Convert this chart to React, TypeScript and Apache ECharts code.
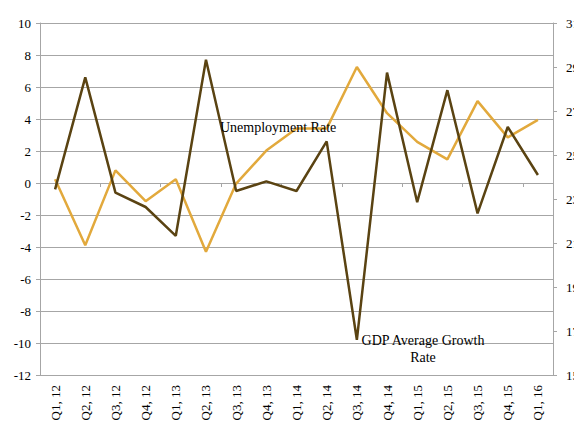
import React, { useEffect, useRef } from "react";
import * as echarts from "echarts";

const categories = [
  "Q1, 12", "Q2, 12", "Q3, 12", "Q4, 12",
  "Q1, 13", "Q2, 13", "Q3, 13", "Q4, 13",
  "Q1, 14", "Q2, 14", "Q3, 14", "Q4, 14",
  "Q1, 15", "Q2, 15", "Q3, 15", "Q4, 15",
  "Q1, 16",
];
const gdpGrowth = [-0.4, 6.6, -0.6, -1.5, -3.3, 7.7, -0.5, 0.1, -0.5, 2.6, -9.8, 6.9, -1.2, 5.8, -1.9, 3.5, 0.5];
const unemployment = [23.9, 20.9, 24.3, 22.9, 23.9, 20.6, 23.7, 25.2, 26.2, 26.2, 29.0, 26.9, 25.6, 24.8, 27.45, 25.8, 26.6];
const leftTicks = { min: -12, max: 10, interval: 2 };
const rightTicks = { min: 15, max: 31, interval: 2 };

const FONT = "Liberation Serif";
const GRID = "#a6a6a6";

export default function App() {
  const ref = useRef<HTMLDivElement>(null);
  useEffect(() => {
    if (!ref.current) return;
    const chart = echarts.init(ref.current, null, { renderer: "svg" });
    chart.setOption({
      animation: false,
      backgroundColor: "#ffffff",
      grid: { left: 40, right: 21, top: 23, bottom: 52, containLabel: false, outerBoundsMode: "none" },
      xAxis: [
        {
          type: "category",
          data: categories,
          position: "bottom",
          boundaryGap: true,
          axisLine: { show: false, onZero: false },
          axisTick: { show: false },
          axisLabel: { color: "#000", fontFamily: FONT, fontSize: 13, rotate: 90, margin: 10, interval: 0 },
          splitLine: { show: false },
        },
        {
          type: "category",
          data: categories,
          position: "top",
          boundaryGap: true,
          axisLine: { show: true, onZero: true, lineStyle: { color: GRID, width: 1 } },
          axisTick: { show: true, inside: true, length: 4, lineStyle: { color: GRID } },
          axisLabel: { show: false },
          splitLine: { show: false },
        },
      ],
      yAxis: [
        {
          type: "value",
          position: "left",
          min: leftTicks.min,
          max: leftTicks.max,
          interval: leftTicks.interval,
          axisLine: { show: true, lineStyle: { color: GRID, width: 1 } },
          axisTick: { show: true, length: 4, lineStyle: { color: GRID } },
          axisLabel: { color: "#000", fontFamily: FONT, fontSize: 13, margin: 9 },
          splitLine: { show: true, lineStyle: { color: GRID, width: 1 } },
        },
        {
          type: "value",
          position: "right",
          min: rightTicks.min,
          max: rightTicks.max,
          interval: rightTicks.interval,
          axisLine: { show: true, lineStyle: { color: GRID, width: 1 } },
          axisTick: { show: true, length: 4, lineStyle: { color: GRID } },
          axisLabel: { color: "#000", fontFamily: FONT, fontSize: 13, margin: 13 },
          splitLine: { show: false },
        },
      ],
      series: [
        {
          name: "GDP Average Growth Rate",
          type: "line",
          data: gdpGrowth,
          xAxisIndex: 0,
          yAxisIndex: 0,
          symbol: "none",
          lineStyle: { color: "#5a4312", width: 2.5 },
          itemStyle: { color: "#5a4312" },
          z: 3,
        },
        {
          name: "Unemployment Rate",
          type: "line",
          data: unemployment,
          xAxisIndex: 0,
          yAxisIndex: 1,
          symbol: "none",
          lineStyle: { color: "#e2a93c", width: 2.5 },
          itemStyle: { color: "#e2a93c" },
          z: 2,
        },
      ],
      graphic: [
        {
          type: "text",
          left: 220,
          top: 120,
          z: 10,
          style: { text: "Unemployment Rate", fontFamily: FONT, fontSize: 14, fill: "#000" },
        },
        {
          type: "text",
          x: 423,
          y: 332,
          z: 10,
          style: {
            text: "GDP Average Growth\nRate",
            fontFamily: FONT,
            fontSize: 14,
            fill: "#000",
            align: "center",
            lineHeight: 17,
          },
        },
      ],
    });
    return () => chart.dispose();
  }, []);
  return (
    <div
      ref={ref}
      style={{ position: "fixed", left: 0, top: 0, width: 574, height: 427, background: "#fff" }}
    />
  );
}
